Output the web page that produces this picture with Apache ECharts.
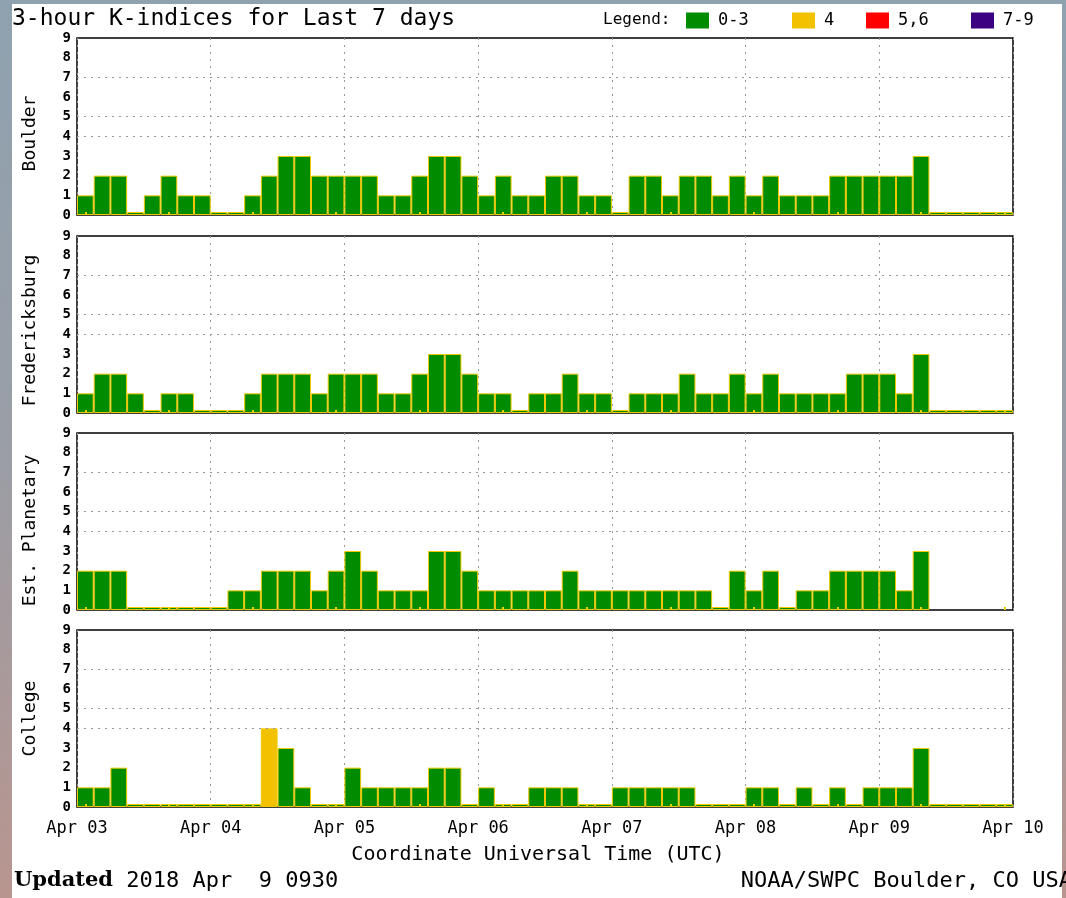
<!DOCTYPE html>
<html>
<head>
<meta charset="utf-8">
<script src="https://cdn.jsdelivr.net/npm/echarts@6/dist/echarts.min.js"></script>
<style>
  html, body { margin: 0; padding: 0; }
  body {
    width: 1066px; height: 898px; overflow: hidden; position: relative;
    background: linear-gradient(to bottom, #8fa2b0 0%, #9a9ea6 50%, #b8958f 100%);
  }
  #paper { position: absolute; left: 12px; top: 4px; width: 1050px; height: 894px; background: #fff; }
  #main { position: absolute; left: 0; top: 0; width: 1066px; height: 898px; }
</style>
</head>
<body>
<div id="paper"></div>
<div id="main"></div>
<script>
  // tick labels on the time axis (day boundaries)
  const dayLabels = ['Apr 03', 'Apr 04', 'Apr 05', 'Apr 06', 'Apr 07', 'Apr 08', 'Apr 09', 'Apr 10'];
  const stations = ['Boulder', 'Fredericksburg', 'Est. Planetary', 'College'];
  // 3-hour K values, 8 per day, Apr 03 .. Apr 09 (null = no data)
  const boulder = [1,2,2,0,1,2,1,1, 0,0,1,2,3,3,2,2, 2,2,1,1,2,3,3,2, 1,2,1,1,2,2,1,1, 0,2,2,1,2,2,1,2, 1,2,1,1,1,2,2,2, 2,2,3,0,0,0,0,0];
  const fredericksburg = [1,2,2,1,0,1,1,0, 0,0,1,2,2,2,1,2, 2,2,1,1,2,3,3,2, 1,1,0,1,1,2,1,1, 0,1,1,1,2,1,1,2, 1,2,1,1,1,1,2,2, 2,1,3,0,0,0,0,0];
  const planetary = [2,2,2,0,0,0,0,0, 0,1,1,2,2,2,1,2, 3,2,1,1,1,3,3,2, 1,1,1,1,1,2,1,1, 1,1,1,1,1,1,0,2, 1,2,0,1,1,2,2,2, 2,1,3,null,null,null,null,null];
  const college = [1,1,2,0,0,0,0,0, 0,0,0,4,3,1,0,0, 2,1,1,1,1,2,2,0, 1,0,0,1,1,1,0,0, 1,1,1,1,1,0,0,0, 1,1,0,1,0,1,0,1, 1,1,3,0,0,0,0,0];
  const yTicks = [0, 1, 2, 3, 4, 5, 6, 7, 8, 9];
  const gridLevels = [4, 5, 7];
  const classes = ['0-3', '4', '5,6', '7-9'];

  const panels = [boulder, fredericksburg, planetary, college];
  const classColors = ['#008c00', '#f2c200', '#ff0000', '#3c0082'];
  const legendLeft = [686, 792, 866, 971];
  const gridTop = [38, 236, 433, 630];
  const nameShift = [14, 12, 18, 0];
  const font = 'DejaVu Sans Mono';

  function classOf(v) {
    if (v <= 3) return 0;
    if (v === 4) return 1;
    if (v <= 6) return 2;
    return 3;
  }

  // one slot name per 3-hour bar
  const slots = [];
  for (let d = 0; d < 7; d++) {
    for (let h = 0; h < 8; h++) slots.push(dayLabels[d] + ' ' + (h * 3) + 'h');
  }

  let chart = echarts.init(document.getElementById('main'));

  const grid = [], xAxis = [], yAxis = [], series = [];
  panels.forEach(function (vals, k) {
    grid.push({left: 77, right: 53, top: gridTop[k], height: 177, show: true,
      borderColor: '#000', borderWidth: 1.5, backgroundColor: 'transparent'});
    // bars live on the category axis
    xAxis.push({
      type: 'category', gridIndex: k, data: slots, boundaryGap: true, z: 10,
      axisLine: {show: false},
      axisLabel: {show: false},
      axisTick: {show: true, inside: true, alignWithLabel: true, length: 3,
        lineStyle: {color: '#e6d000', width: 2}},
      splitLine: {show: false}
    });
    // day boundaries and their labels
    xAxis.push({
      type: 'value', gridIndex: k, min: 0, max: 56, interval: 8, position: 'bottom',
      axisLine: {show: false}, axisTick: {show: false},
      axisLabel: {show: k === 3, margin: 13, color: '#000', fontFamily: font, fontSize: 17,
        formatter: function (v) { return dayLabels[v / 8]; }},
      splitLine: {show: true, lineStyle: {color: '#999', type: [2, 5], width: 1}},
      name: k === 3 ? 'Coordinate Universal Time (UTC)' : '',
      nameLocation: 'middle', nameGap: 38,
      nameTextStyle: {color: '#000', fontFamily: font, fontSize: 20, padding: [0, 14, 0, 0]}
    });
    yAxis.push({
      type: 'value', gridIndex: k, min: yTicks[0], max: yTicks[yTicks.length - 1], interval: 1,
      name: stations[k], nameLocation: 'middle', nameGap: 38,
      nameTextStyle: {color: '#000', fontFamily: font, fontSize: 18, padding: [0, nameShift[k], 0, 0]},
      axisLine: {show: false}, axisTick: {show: false},
      axisLabel: {color: '#000', fontFamily: font, fontSize: 14, fontWeight: 'bold', margin: 6},
      splitLine: {show: false}
    });
    classes.forEach(function (name, c) {
      const s = {
        name: name, type: 'bar', xAxisIndex: 2 * k, yAxisIndex: k,
        barGap: '-100%', barCategoryGap: '0%',
        data: vals.map(function (v) { return (v !== null && classOf(v) === c) ? v : null; }),
        itemStyle: {color: classColors[c], borderColor: '#f0c800', borderWidth: 1},
        silent: true
      };
      if (c === 0) {
        s.barMinHeight = 3;
        s.markLine = {
          silent: true, symbol: ['none', 'none'], label: {show: false},
          lineStyle: {color: '#999', type: [2, 5], width: 1},
          data: gridLevels.map(function (v) { return {yAxis: v}; })
        };
      }
      series.push(s);
    });
  });

  const legend = classes.map(function (name, c) {
    return {
      data: [name], left: legendLeft[c], top: 12, padding: 0,
      icon: 'rect', itemWidth: 23, itemHeight: 16, selectedMode: false,
      itemStyle: {borderWidth: 0},
      textStyle: {color: '#000', fontFamily: font, fontSize: 17, padding: [0, 0, 0, 4]}
    };
  });

  chart.setOption({
    animation: false,
    title: {
      text: '3-hour K-indices for Last 7 days', left: 12, top: 8, padding: 0,
      textStyle: {color: '#000', fontFamily: font, fontSize: 23, fontWeight: 'normal'}
    },
    legend: legend,
    grid: grid,
    xAxis: xAxis,
    yAxis: yAxis,
    series: series,
    graphic: [
      {type: 'text', left: 603, top: 12,
        style: {text: 'Legend:', fill: '#000', font: '16px "DejaVu Sans Mono"'}},
      {type: 'text', left: 14, top: 870,
        style: {
          text: '{b|Updated} 2018 Apr  9 0930',
          fill: '#000', font: '22px "DejaVu Sans Mono"',
          rich: {b: {fontFamily: 'DejaVu Serif', fontWeight: 'bold', fontSize: 21, fill: '#000'}}
        }},
      {type: 'text', right: -6, top: 870,
        style: {text: 'NOAA/SWPC Boulder, CO USA', fill: '#000', font: '22px "DejaVu Sans Mono"'}}
    ]
  });
</script>
</body>
</html>
